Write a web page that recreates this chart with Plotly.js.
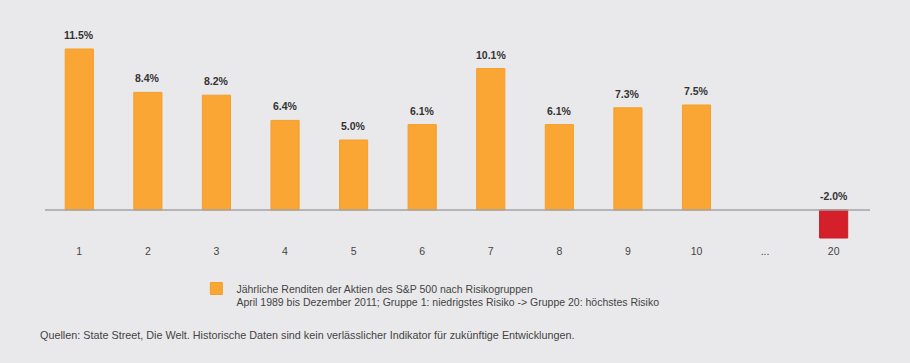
<!DOCTYPE html>
<html><head><meta charset="utf-8">
<script src="https://cdn.plot.ly/plotly-3.0.1.min.js"></script>
<style>html,body{margin:0;padding:0;background:#e9e9eb;}</style>
</head><body><div id="chart" style="width:910px;height:363px;"></div>
<script>
const categories = ['1','2','3','4','5','6','7','8','9','10','...','20'];
const returns = [11.5, 8.4, 8.2, 6.4, 5.0, 6.1, 10.1, 6.1, 7.3, 7.5, null, -2.0];
const valueLabels = ['11.5%','8.4%','8.2%','6.4%','5.0%','6.1%','10.1%','6.1%','7.3%','7.5%','','-2.0%'];
const legendText = 'Jährliche Renditen der Aktien des S&P 500 nach Risikogruppen<br>April 1989 bis Dezember 2011; Gruppe 1: niedrigstes Risiko -> Gruppe 20: höchstes Risiko';
const sourceText = 'Quellen: State Street, Die Welt. Historische Daten sind kein verlässlicher Indikator für zukünftige Entwicklungen.';

const ORANGE = '#f9a634', RED = '#d4202a';
const colors = returns.map(v => v !== null && v < 0 ? RED : ORANGE);
const lineColors = returns.map(v => v !== null && v < 0 ? '#c81d25' : '#f59e2a');
const FONT = 'Liberation Sans, Arial, sans-serif';

const trace = {
  type: 'bar', x: categories, y: returns, width: 0.41,
  marker: {color: colors, line: {color: lineColors, width: 1}},
  name: legendText, showlegend: true, hoverinfo: 'none'
};

const annotations = [];
categories.forEach((c, i) => {
  if (returns[i] === null) return;
  annotations.push({
    x: i, y: Math.max(returns[i], 0), text: valueLabels[i], showarrow: false,
    yanchor: 'bottom', yshift: 6, font: {family: FONT, size: 10.5, color: '#333', weight: 'bold'}
  });
});
annotations.push({
  xref: 'paper', yref: 'paper', x: -0.009, y: -0.432, xanchor: 'left', yanchor: 'middle',
  text: sourceText, showarrow: false, font: {family: FONT, size: 10.8, color: '#444'}
});

const layout = {
  width: 910, height: 363,
  margin: {l: 45, r: 40, t: 20, b: 123},
  paper_bgcolor: '#e9e9eb', plot_bgcolor: '#e9e9eb',
  font: {family: FONT, size: 10.5, color: '#444'},
  xaxis: {type: 'category', range: [-0.5, 11.53], showgrid: false, zeroline: false, showline: false,
          ticks: '', ticklabelstandoff: 3, tickfont: {family: FONT, size: 10.5, color: '#444'}, fixedrange: true},
  yaxis: {range: [-2.143, 13.571], visible: false, showgrid: false, zeroline: false, fixedrange: true},
  shapes: [{type: 'line', xref: 'paper', yref: 'y', x0: 0, x1: 1, y0: 0, y1: 0,
            line: {color: '#a3a3a6', width: 1.5}, layer: 'above'}],
  showlegend: true,
  legend: {x: 0.1835, y: -0.16, xanchor: 'left', yanchor: 'top', bgcolor: 'rgba(0,0,0,0)',
           font: {family: FONT, size: 10.5, color: '#444'}, valign: 'top'},
  annotations: annotations
};
Plotly.newPlot('chart', [trace], layout, {displayModeBar: false, staticPlot: true});
</script></body></html>
